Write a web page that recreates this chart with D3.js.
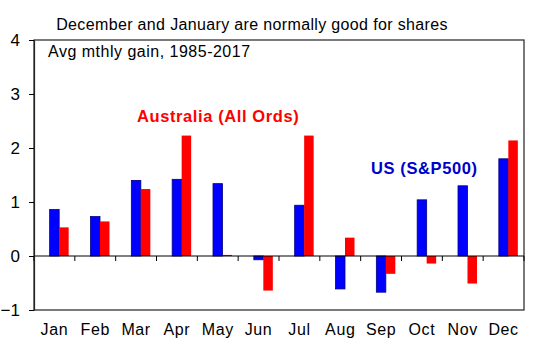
<!DOCTYPE html>
<html>
<head>
<meta charset="utf-8">
<script src="https://cdn.jsdelivr.net/npm/d3@7"></script>
<style>
  body { margin: 0; background: #fff; }
  text { font-family: "Liberation Sans", Arial, sans-serif; }
</style>
</head>
<body>
<div id="chart"></div>
<script>
// avg monthly gain (%), 1985-2017
var months = ['Jan','Feb','Mar','Apr','May','Jun','Jul','Aug','Sep','Oct','Nov','Dec'];
var usVals = [0.86, 0.73, 1.40, 1.42, 1.34, -0.07, 0.94, -0.61, -0.67, 1.04, 1.30, 1.80];
var ausVals = [0.53, 0.64, 1.24, 2.23, 0.02, -0.64, 2.23, 0.34, -0.33, -0.14, -0.51, 2.14];
var yTicks = [-1, 0, 1, 2, 3, 4];

var dim = { 'width': 555, 'height': 351 };
var m = { top: 40, left: 34, right: 31, bottom: 41 };

var svg = d3.select('#chart').append('svg')
    .attr('width', dim.width)
    .attr('height', dim.height);

var x0 = d3.scaleBand()
    .domain(months)
    .range([m.left, dim.width - m.right]);

// three slots per month, first one left empty like the original
var x1 = d3.scaleBand()
    .domain(['none', 'us', 'aus'])
    .range([0, x0.step()])
    .paddingOuter(0.65);

var y = d3.scaleLinear()
    .domain([-1, 4])
    .range([dim.height - m.bottom, m.top]);

var data = months.map((d, i) => ({ month: d, us: usVals[i], aus: ausVals[i] }));

// frame
svg.append('rect')
    .attr('x', m.left).attr('y', m.top)
    .attr('width', dim.width - m.left - m.right)
    .attr('height', dim.height - m.top - m.bottom)
    .attr('fill', 'none')
    .attr('stroke', '#222')
    .attr('stroke-width', 1.2);

var g = svg.selectAll('g.month')
    .data(data)
    .enter().append('g')
    .attr('class', 'month')
    .attr('transform', d => 'translate(' + x0(d.month) + ',0)');

g.append('rect')
    .attr('x', x1('us'))
    .attr('width', x1.bandwidth())
    .attr('y', d => y(Math.max(0, d.us)))
    .attr('height', d => Math.abs(y(d.us) - y(0)))
    .attr('fill', '#0000ff')
    .attr('stroke', '#000080')
    .attr('stroke-width', 0.8);

g.append('rect')
    .attr('x', x1('aus'))
    .attr('width', x1.bandwidth())
    .attr('y', d => y(Math.max(0, d.aus)))
    .attr('height', d => Math.max(0.8, Math.abs(y(d.aus) - y(0))))
    .attr('fill', '#ff0000');

// zero line with category ticks
var xAxis = svg.append('g')
    .attr('transform', 'translate(0,' + y(0) + ')');
xAxis.append('line')
    .attr('x1', m.left).attr('x2', dim.width - m.right)
    .attr('stroke', '#000').attr('stroke-width', 1.2);
xAxis.selectAll('line.tick')
    .data(months.concat(['end']))
    .enter().append('line')
    .attr('class', 'tick')
    .attr('x1', d => d == 'end' ? dim.width - m.right : x0(d))
    .attr('x2', d => d == 'end' ? dim.width - m.right : x0(d))
    .attr('y1', 0).attr('y2', 5)
    .attr('stroke', '#000');

// month labels
svg.selectAll('text.month')
    .data(months)
    .enter().append('text')
    .attr('x', d => x0(d) + x0.bandwidth() / 2)
    .attr('y', 335)
    .attr('text-anchor', 'middle')
    .attr('font-size', 16)
    .attr('letter-spacing', 0.6)
    .text(d => d);

// y axis
var yAxis = svg.append('g')
    .attr('transform', 'translate(' + m.left + ',0)')
    .call(d3.axisLeft(y).tickValues(yTicks).tickSize(5).tickSizeOuter(0).tickPadding(9).tickFormat(d3.format('d')));
yAxis.select('.domain').attr('stroke', '#222').attr('stroke-width', 1.2);
yAxis.selectAll('text')
    .attr('font-size', 17)
    .attr('fill', '#000')
    .style('font-family', '"Liberation Sans", Arial, sans-serif');

// titles and labels
svg.append('text')
    .attr('x', 252).attr('y', 30)
    .attr('text-anchor', 'middle')
    .attr('font-size', 16)
    .attr('letter-spacing', 0.35)
    .text('December and January are normally good for shares');

svg.append('text')
    .attr('x', 48).attr('y', 57)
    .attr('font-size', 16)
    .attr('letter-spacing', 0.5)
    .text('Avg mthly gain, 1985-2017');

svg.append('text')
    .attr('x', 137).attr('y', 122)
    .attr('font-size', 16.5)
    .attr('font-weight', 'bold')
    .attr('fill', '#ff0000')
    .attr('letter-spacing', 0.6)
    .text('Australia (All Ords)');

svg.append('text')
    .attr('x', 371).attr('y', 174)
    .attr('font-size', 16.5)
    .attr('font-weight', 'bold')
    .attr('fill', '#0000cc')
    .attr('letter-spacing', 0.6)
    .text('US (S&P500)');
</script>
</body>
</html>
